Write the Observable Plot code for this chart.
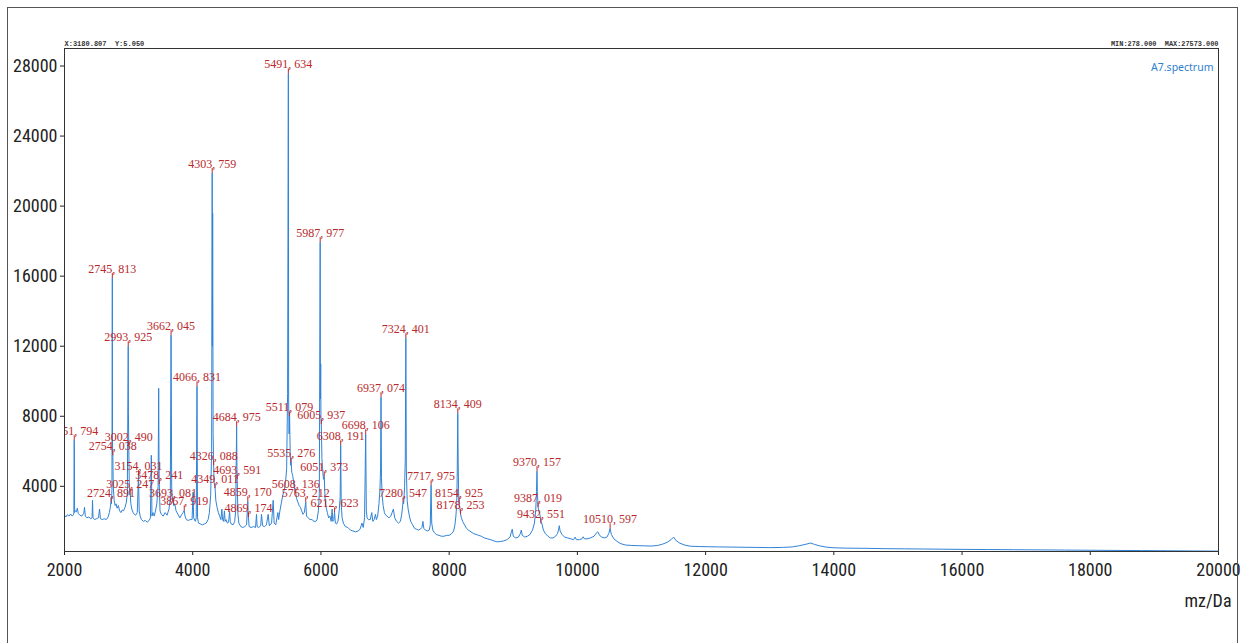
<!DOCTYPE html>
<html>
<head>
<meta charset="utf-8">
<script src="https://cdn.jsdelivr.net/npm/d3@7"></script>
<script src="https://cdn.jsdelivr.net/npm/@observablehq/plot@0.6"></script>
<style>
  html, body { margin: 0; padding: 0; background: #fff; overflow: hidden; }
  #outer { position: absolute; left: 7px; top: 7px; width: 1229px; height: 700px; border: 1px solid #555; pointer-events: none; }
  #chart { position: absolute; left: 0; top: 0; }
</style>
</head>
<body>
<div id="chart"></div>
<div id="outer"></div>
<script>
// ---- data ----
const xTicks = [2000, 4000, 6000, 8000, 10000, 12000, 14000, 16000, 18000, 20000];
const yTicks = [4000, 8000, 12000, 16000, 20000, 24000, 28000];

// [m/z, intensity]
const spectrum = [
  [2000, 2350], [2020, 2250], [2045, 2380], [2070, 2300], [2095, 2420], [2120, 2300], [2140, 2380], [2146, 2500],
  [2151.8, 6630], [2158, 2500], [2170, 2600], [2185, 2550], [2200, 2750], [2215, 2450], [2240, 2350], [2270, 2300],
  [2300, 2450], [2312, 2800], [2325, 2300], [2350, 2200], [2380, 2250], [2410, 2150], [2430, 2200], [2437, 3200],
  [2445, 2200], [2470, 2100], [2500, 2150], [2530, 2200], [2547, 2700], [2560, 2150], [2590, 2100], [2620, 2150],
  [2650, 2100], [2680, 2250], [2700, 2500], [2715, 2800], [2724.9, 3090], [2732, 3000], [2740, 3800], [2745.8, 15890],
  [2749, 6000], [2754, 5770], [2760, 4000], [2775, 3200], [2790, 2900], [2805, 3000], [2820, 2750], [2840, 2900],
  [2860, 2600], [2880, 2500], [2900, 2650], [2920, 2600], [2945, 2800], [2965, 3100], [2980, 3600], [2993.9, 12000],
  [2997, 8200], [3002.5, 6290], [3010, 4200], [3018, 3500], [3025.2, 3600], [3035, 3000], [3050, 2700], [3070, 2500],
  [3090, 2400], [3110, 2350], [3135, 2500], [3154, 4630], [3165, 2600], [3180, 2300], [3200, 2100], [3230, 2000],
  [3260, 2050], [3290, 1950], [3320, 2050], [3340, 2200], [3354, 5770], [3364, 2300], [3380, 2500], [3400, 2300],
  [3420, 2600], [3440, 3000], [3460, 4000], [3469, 9600], [3474, 5500], [3478.2, 4110], [3490, 2600], [3510, 2400],
  [3540, 2300], [3570, 2500], [3600, 2350], [3630, 2700], [3650, 3300], [3662, 12630], [3672, 4000], [3680, 3400],
  [3693, 3090], [3705, 2900], [3720, 3000], [3740, 2600], [3770, 2400], [3800, 2200], [3830, 2400], [3850, 2500],
  [3867.9, 2630], [3880, 2300], [3900, 2100], [3930, 2050], [3960, 2100], [3990, 2100], [4005, 3660], [4015, 2200],
  [4040, 2000], [4055, 2200], [4066.8, 9710], [4075, 2200], [4090, 1900], [4120, 1850], [4150, 1800], [4180, 1850],
  [4210, 1900], [4240, 2100], [4260, 2500], [4280, 3500], [4295, 6000], [4303.8, 21890], [4307, 12000], [4311, 19600],
  [4318, 7000], [4326.1, 5200], [4335, 4200], [4349, 3890], [4360, 3200], [4380, 2800], [4400, 2500], [4420, 2300],
  [4440, 2100], [4455, 2700], [4465, 2100], [4480, 2000], [4495, 2600], [4505, 2000], [4520, 2100], [4540, 1900],
  [4560, 1950], [4575, 2600], [4585, 2000], [4600, 1850], [4630, 1800], [4655, 2000], [4670, 2600], [4684.9, 7430],
  [4690, 5000], [4693.6, 4400], [4705, 2400], [4720, 1900], [4750, 1700], [4780, 1650], [4810, 1700], [4840, 1800],
  [4859.2, 3140], [4864, 2600], [4869.2, 2230], [4880, 1700], [4910, 1650], [4950, 1700], [4980, 1650], [4995, 2400],
  [5005, 1700], [5030, 1650], [5060, 1750], [5073, 2400], [5090, 1750], [5120, 1700], [5150, 1800], [5177, 2400],
  [5195, 1750], [5230, 1900], [5255, 3200], [5270, 1900], [5295, 1800], [5328, 2500], [5340, 2100], [5360, 2600],
  [5380, 3000], [5400, 3400], [5420, 3700], [5445, 4100], [5465, 5000], [5480, 9300], [5491.6, 27573], [5496, 9000],
  [5503, 7000], [5511.1, 8000], [5520, 6000], [5528, 5200], [5535.3, 5370], [5545, 4800], [5560, 4600], [5575, 4200],
  [5590, 3800], [5608.1, 3600], [5620, 3300], [5640, 3100], [5660, 2900], [5680, 2800], [5700, 2600], [5720, 2400],
  [5740, 2500], [5763.2, 3090], [5775, 2300], [5800, 2200], [5830, 2100], [5860, 2100], [5890, 2000], [5920, 2000],
  [5940, 2100], [5960, 2600], [5975, 3600], [5987.9, 17940], [5992, 9000], [5996, 11000], [6000, 8000], [6005.9, 7540],
  [6015, 5600], [6030, 4800], [6040, 4400], [6051.4, 4570], [6065, 3200], [6080, 2800], [6100, 2500], [6120, 2200],
  [6140, 2300], [6160, 2000], [6175, 2700], [6185, 2000], [6200, 2100], [6212.6, 2510], [6225, 1900], [6245, 1850],
  [6265, 2000], [6285, 2600], [6300, 3400], [6308.2, 6340], [6316, 3000], [6330, 2200], [6350, 1900], [6380, 1700],
  [6420, 1650], [6460, 1500], [6500, 1450], [6540, 1400], [6580, 1450], [6610, 1550], [6640, 1900], [6660, 1650],
  [6680, 2200], [6698.1, 6970], [6708, 2600], [6720, 2200], [6740, 2100], [6770, 2100], [6792, 2500], [6810, 2000],
  [6830, 2100], [6850, 2400], [6865, 2100], [6885, 2300], [6905, 3000], [6920, 3800], [6930, 5000], [6937.1, 9090],
  [6944, 4500], [6955, 3500], [6970, 2900], [6990, 2500], [7000, 2400], [7030, 2300], [7060, 2200], [7090, 2300],
  [7110, 2500], [7130, 2700], [7150, 2200], [7180, 2000], [7210, 1900], [7240, 2000], [7260, 2400], [7280.5, 3090],
  [7290, 3000], [7305, 4000], [7315, 5500], [7324.4, 12460], [7332, 5000], [7345, 3200], [7360, 2700], [7380, 2300],
  [7400, 2000], [7430, 1800], [7460, 1600], [7490, 1550], [7520, 1500], [7550, 1550], [7575, 1650], [7590, 2000],
  [7605, 1600], [7630, 1500], [7660, 1450], [7690, 1500], [7705, 1800], [7718, 4060], [7728, 1900], [7745, 1500],
  [7770, 1350], [7800, 1250], [7840, 1200], [7880, 1150], [7920, 1150], [7960, 1200], [8000, 1200], [8040, 1300],
  [8070, 1450], [8090, 1800], [8105, 2300], [8118, 3000], [8125, 4500], [8134.4, 8170], [8140, 5500], [8148, 3500],
  [8154.9, 3090], [8165, 2800], [8178.3, 2400], [8190, 2200], [8210, 2000], [8240, 1800], [8270, 1600], [8300, 1500],
  [8340, 1400], [8380, 1300], [8420, 1250], [8460, 1200], [8500, 1150], [8550, 1050], [8600, 1000], [8650, 950],
  [8700, 880], [8750, 830], [8800, 850], [8850, 880], [8900, 950], [8950, 1100], [8970, 1400], [8984, 1550],
  [9000, 1150], [9040, 1050], [9080, 1100], [9110, 1300], [9125, 1500], [9140, 1200], [9180, 1100], [9220, 1150],
  [9260, 1250], [9300, 1500], [9330, 1900], [9350, 2600], [9362, 3700], [9370.2, 4860], [9375, 3700], [9382, 3200],
  [9387, 2800], [9400, 2600], [9420, 2300], [9432.6, 1890], [9445, 1900], [9470, 1500], [9500, 1300], [9540, 1150],
  [9580, 1050], [9620, 1050], [9660, 1150], [9690, 1300], [9705, 1500], [9718, 1750], [9730, 1450], [9760, 1250],
  [9800, 1100], [9850, 1050], [9900, 1000], [9940, 950], [9965, 1100], [9985, 950], [10030, 950], [10070, 1000],
  [10090, 1120], [10110, 1000], [10150, 1000], [10200, 1050], [10260, 1150], [10300, 1350], [10320, 1400], [10345, 1200],
  [10380, 1100], [10420, 1050], [10460, 1100], [10490, 1300], [10510.6, 1600], [10530, 1250], [10570, 1000], [10620, 850],
  [10680, 720], [10750, 650], [10850, 620], [10950, 610], [11050, 600], [11150, 590], [11250, 620], [11330, 700],
  [11400, 800], [11460, 950], [11500, 1100], [11540, 900], [11600, 750], [11680, 640], [11760, 580], [11900, 560],
  [12050, 550], [12200, 540], [12400, 530], [12600, 520], [12800, 510], [13000, 500], [13200, 510], [13350, 540],
  [13450, 600], [13550, 680], [13640, 760], [13700, 680], [13780, 600], [13880, 530], [14000, 490], [14200, 470],
  [14500, 460], [14800, 440], [15100, 430], [15400, 420], [15700, 410], [16000, 400], [16400, 390], [16800, 380],
  [17200, 370], [17600, 360], [18000, 350], [18400, 340], [18800, 330], [19200, 320], [19600, 310], [20000, 300]
];

// labelled peaks
const peakMz = [2151.794, 2724.891, 2745.813, 2754.038, 2993.925, 3002.490, 3025.247, 3154.031, 3478.241, 3662.045,
  3693.081, 3867.919, 4066.831, 4303.759, 4326.088, 4349.011, 4684.975, 4693.591, 4859.170, 4869.174,
  5491.634, 5511.079, 5535.276, 5608.136, 5763.212, 5987.977, 6005.937, 6051.373, 6212.623, 6308.191,
  6698.106, 6937.074, 7280.547, 7324.401, 7717.975, 8134.409, 8154.925, 8178.253, 9370.157, 9387.019,
  9432.551, 10510.597];
const peakIntensity = [6630, 3090, 15890, 5770, 12000, 6290, 3600, 4630, 4110, 12630,
  3090, 2630, 9710, 21890, 5200, 3890, 7430, 4400, 3140, 2230,
  27573, 8000, 5370, 3600, 3090, 17940, 7540, 4570, 2510, 6340,
  6970, 9090, 3090, 12460, 4060, 8170, 3090, 2400, 4860, 2800,
  1890, 1600];
const peakLabels = ["2151, 794", "2724, 891", "2745, 813", "2754, 038", "2993, 925", "3002, 490", "3025, 247", "3154, 031", "3478, 241", "3662, 045",
  "3693, 081", "3867, 919", "4066, 831", "4303, 759", "4326, 088", "4349, 011", "4684, 975", "4693, 591", "4859, 170", "4869, 174",
  "5491, 634", "5511, 079", "5535, 276", "5608, 136", "5763, 212", "5987, 977", "6005, 937", "6051, 373", "6212, 623", "6308, 191",
  "6698, 106", "6937, 074", "7280, 547", "7324, 401", "7717, 975", "8134, 409", "8154, 925", "8178, 253", "9370, 157", "9387, 019",
  "9432, 551", "10510, 597"];

const cursorText = "X:3180.807  Y:5.050";
const rangeText = "MIN:278.000  MAX:27573.000";
const seriesName = "A7.spectrum";
const xLabel = "mz/Da";

// ---- build ----
const peaks = peakMz.map((m, i) => ({mz: m, intensity: peakIntensity[i], label: peakLabels[i]}));
const red = "#b8292c";
const tickSymbol = { draw(ctx) { ctx.moveTo(0, 0); ctx.lineTo(0, -5); } };
const axisFont = "'Liberation Sans Narrow', 'Roboto Condensed', 'DejaVu Sans Condensed', sans-serif";

const chart = Plot.plot({
  width: 1247,
  height: 643,
  marginLeft: 64,
  marginRight: 29,
  marginTop: 48,
  marginBottom: 92,
  style: { fontFamily: axisFont, fontSize: "18px", color: "#222", background: "transparent", overflow: "visible" },
  x: { domain: [2000, 20000], ticks: xTicks, tickFormat: d => String(d), tickSize: 4, tickPadding: 8, label: null },
  y: { domain: [278, 29000], ticks: yTicks, tickFormat: d => String(d), tickSize: 4, tickPadding: 3, label: null },
  marks: [
    Plot.line(spectrum, { x: d => d[0], y: d => d[1], stroke: "#2f83d6", strokeWidth: 1, clip: true }),
    Plot.dot(peaks, { x: "mz", y: "intensity", symbol: tickSymbol, r: 3, fill: "none", stroke: red, strokeWidth: 1 }),
    Plot.text(peaks, { x: "mz", y: "intensity", text: "label", dy: -9, lineAnchor: "middle", fill: red,
      fontFamily: "'Liberation Serif', 'DejaVu Serif', serif", fontSize: 12, clip: true }),
    Plot.frame({ stroke: "#333", strokeWidth: 1 }),
    Plot.text([seriesName], { frameAnchor: "top-right", text: d => d, dx: -5, dy: 15, fill: "#2f7fd0",
      fontFamily: "'Noto Sans', 'DejaVu Sans', sans-serif", fontSize: 10.5 }),
    Plot.text([cursorText], { frameAnchor: "top-left", text: d => d, dx: 0, dy: -3, lineAnchor: "bottom", fill: "#333",
      fontFamily: "'Liberation Mono', monospace", fontSize: 7, fontWeight: "bold" }),
    Plot.text([rangeText], { frameAnchor: "top-right", text: d => d, dx: 0, dy: -3, lineAnchor: "bottom", fill: "#333",
      fontFamily: "'Liberation Mono', monospace", fontSize: 6.9, fontWeight: "bold" }),
    Plot.text([xLabel], { frameAnchor: "bottom-right", text: d => d, dx: 13, dy: 55, textAnchor: "end", fill: "#222",
      fontFamily: axisFont, fontSize: 18 })
  ]
});
document.getElementById("chart").appendChild(chart);
</script>
</body>
</html>
